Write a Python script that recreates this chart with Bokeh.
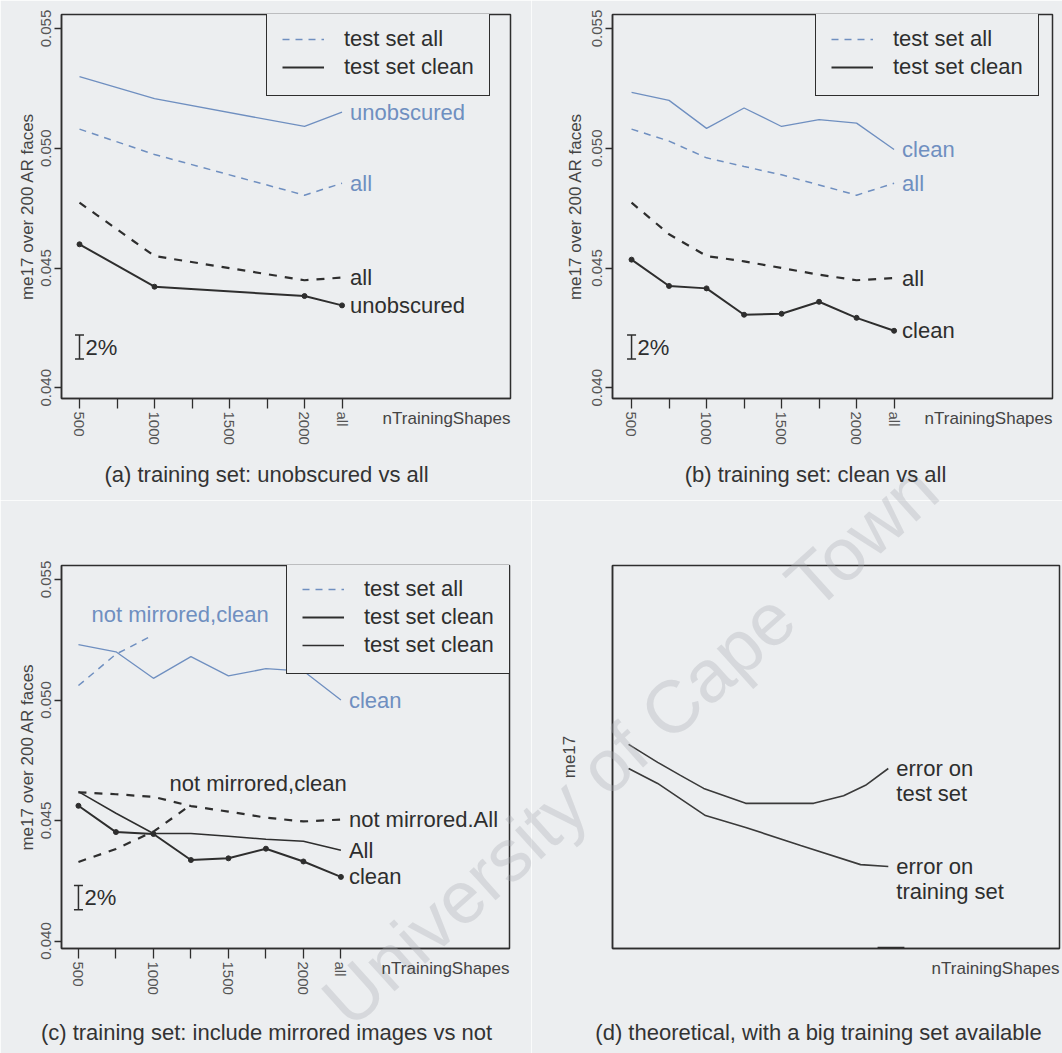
import math
from bokeh.plotting import figure
from bokeh.layouts import column, row
from bokeh.models import (Range1d, FixedTicker, PrintfTickFormatter, Legend, LegendItem,
                          Label, Whisker, TeeHead, ColumnDataSource)
from bokeh.embed import file_html
from bokeh.resources import INLINE

NAN = float("nan")

# ---------------- data ----------------
n_ticks = [500, 750, 1000, 1250, 1500, 1750, 2000, 2250]          # 2250 = "all"
n_tick_labels = ["500", "", "1000", "", "1500", "", "2000", "all"]
me17_ticks = [0.040, 0.045, 0.050, 0.055]

# (a) training set: unobscured vs all
a_n = [500, 1000, 2000, 2250]
a_unobscured_testall = [0.05299, 0.05207, 0.05091, 0.05151]
a_all_testall = [0.05080, 0.04974, 0.04804, 0.04854]
a_all_testclean = [0.04773, 0.04550, 0.04449, 0.04460]
a_unobscured_testclean = [0.04599, 0.04422, 0.04383, 0.04344]

# (b) training set: clean vs all
b_n = [500, 750, 1000, 1250, 1500, 1750, 2000, 2250]
b_clean_testall = [0.05233, 0.05200, 0.05083, 0.05168, 0.05091, 0.05120, 0.05105, 0.04995]
b_all_testall = [0.05080, 0.05030, 0.04960, 0.04924, 0.04889, 0.04847, 0.04804, 0.04854]
b_all_testclean = [0.04773, 0.04641, 0.04550, 0.04528, 0.04500, 0.04472, 0.04449, 0.04458]
b_clean_testclean = [0.04535, 0.04425, 0.04415, 0.04305, 0.04309, 0.04359, 0.04292, 0.04238]

# (c) training set: include mirrored images vs not
c_n = [500, 750, 1000, 1250, 1500, 1750, 2000, 2250]
c_notmirr_clean_testall = [0.0523, 0.0520, 0.0509, 0.0518, 0.0510, 0.0513, 0.0512, 0.0500]
c_mirr_testall = [0.0506, 0.0519, 0.0527, NAN, NAN, NAN, NAN, NAN]
c_notmirr_all_testclean = [0.04617, 0.04609, 0.04598, 0.04560, 0.04537, 0.04512, 0.04496, 0.04504]
c_mirr_all_testclean = [0.04328, 0.04382, 0.04454, 0.04565, NAN, NAN, NAN, NAN]
c_all_testclean = [0.0462, 0.0453, 0.04446, 0.04446, 0.04435, 0.04422, 0.04414, 0.04377]
c_clean_testclean = [0.04561, 0.04452, 0.04444, 0.04336, 0.04343, 0.04383, 0.04330, 0.04266]

# 2% scale bars
bar_n = 500
bar_ab = (0.0412, 0.0422)
bar_c = (0.0413, 0.0423)

# (d) theoretical (arbitrary units)
d_x_test = [0.36, 1.01, 1.52, 2.04, 2.98, 4.50, 5.17, 5.66, 6.17]
d_err_test = [5.33, 4.86, 4.52, 4.18, 3.79, 3.79, 3.99, 4.26, 4.70]
d_x_train = [0.36, 1.01, 2.08, 2.98, 4.21, 5.55, 6.17]
d_err_train = [4.70, 4.31, 3.47, 3.16, 2.69, 2.19, 2.14]
d_mark_x = [5.93, 6.53]

captions = ["(a) training set: unobscured vs all",
            "(b) training set: clean vs all",
            "(c) training set: include mirrored images vs not",
            "(d) theoretical, with a big training set available"]
x_title = "nTrainingShapes"
watermark_text = "University of Cape Town"

# ---------------- style ----------------
BG = "#eceef0"
INK = "#2e2e2e"
BLUE = "#6f8fc0"
TICKTXT = "#555555"
FONT = "Liberation Sans"
BIG = "22px"

# layout specs (global pixel layout of each figure)
SPEC = {
    "a": dict(ox=0, oy=0, W=531, H=500, bl=61, br=21, bt=14, bb=102, xr=(380, 3373), yr=(0.039552, 0.055585)),
    "b": dict(ox=531, oy=0, W=531, H=500, bl=81, br=10, bt=14, bb=102, xr=(373, 3306), yr=(0.039552, 0.055585)),
    "c": dict(ox=0, oy=500, W=531, H=553, bl=61, br=22, bt=65, bb=105, xr=(387, 3374), yr=(0.039689, 0.055581)),
    "d": dict(ox=531, oy=500, W=531, H=553, bl=81, br=3, bt=65, bb=105, xr=(0, 10), yr=(0, 10)),
}


def frame(s):
    return (s["ox"] + s["bl"], s["ox"] + s["W"] - s["br"], s["oy"] + s["bt"], s["oy"] + s["H"] - s["bb"])


def g2d(s, gx, gy):
    fl, fr, ft, fb = frame(s)
    x0, x1 = s["xr"]
    y0, y1 = s["yr"]
    return (x0 + (gx - fl) / (fr - fl) * (x1 - x0), y0 + (fb - gy) / (fb - ft) * (y1 - y0))


def dy_px(s, px):
    fl, fr, ft, fb = frame(s)
    y0, y1 = s["yr"]
    return px / (fb - ft) * (y1 - y0)


def make_fig(key, ticks=True, ylabel="me17 over 200 AR faces", ylabel_standoff=2):
    s = SPEC[key]
    p = figure(width=s["W"], height=s["H"], x_range=Range1d(*s["xr"]), y_range=Range1d(*s["yr"]),
               output_backend="svg", toolbar_location=None,
               min_border_left=s["bl"], min_border_right=s["br"],
               min_border_top=s["bt"], min_border_bottom=s["bb"])
    p.background_fill_color = BG
    p.border_fill_color = BG
    p.outline_line_color = INK
    p.outline_line_width = 1.5
    p.outline_line_alpha = 1
    p.grid.visible = False
    for ax in (p.xaxis[0], p.yaxis[0]):
        ax.axis_line_color = INK
        ax.axis_line_width = 1.5
        ax.major_tick_line_color = INK
        ax.major_tick_line_width = 1.3
        ax.major_tick_in = 0
        ax.minor_tick_in = 0
        ax.minor_tick_out = 0
        ax.major_label_text_font = FONT
        ax.major_label_text_font_size = "15px"
        ax.major_label_text_color = TICKTXT
        ax.axis_label_text_font = FONT
        ax.axis_label_text_font_style = "normal"
        ax.axis_label_text_font_size = "17px"
        ax.axis_label_text_color = "#444444"
    xa, ya = p.xaxis[0], p.yaxis[0]
    if ticks:
        xa.ticker = FixedTicker(ticks=n_ticks)
        xa.major_label_overrides = {t: l for t, l in zip(n_ticks, n_tick_labels)}
        xa.major_label_orientation = "vertical"
        xa.major_tick_out = 10
        xa.major_label_standoff = 3
        ya.ticker = FixedTicker(ticks=me17_ticks)
        ya.formatter = PrintfTickFormatter(format="%.3f")
        ya.major_label_orientation = "vertical"
        ya.major_tick_out = 7
        ya.major_label_standoff = 3
    else:
        xa.ticker = FixedTicker(ticks=[])
        ya.ticker = FixedTicker(ticks=[])
        xa.major_tick_out = 0
        ya.major_tick_out = 0
    ya.axis_label = ylabel
    ya.axis_label_standoff = ylabel_standoff
    return p


def end_label(p, x, y, text, color):
    p.add_layout(Label(x=x, y=y, text=text, x_offset=8, text_baseline="middle", text_align="left",
                       text_font=FONT, text_font_size=BIG, text_color=color))


def free_label(p, s, gx, gy, text, color, align="left", size=BIG):
    x, y = g2d(s, gx, gy)
    p.add_layout(Label(x=x, y=y, text=text, text_baseline="middle", text_align=align,
                       text_font=FONT, text_font_size=size, text_color=color))


def scale_bar(p, lo_hi):
    src = ColumnDataSource(dict(base=[bar_n], lower=[lo_hi[0]], upper=[lo_hi[1]]))
    p.add_layout(Whisker(source=src, base="base", lower="lower", upper="upper", dimension="height",
                         line_color=INK, line_width=1.5,
                         upper_head=TeeHead(size=9, line_color=INK, line_width=1.5),
                         lower_head=TeeHead(size=9, line_color=INK, line_width=1.5)))
    p.add_layout(Label(x=bar_n, y=(lo_hi[0] + lo_hi[1]) / 2, text="2%", x_offset=6, text_baseline="middle",
                       text_font=FONT, text_font_size=BIG, text_color=INK))


def legend(p, items, s, gx, gy, nrows):
    fl, fr, ft, fb = frame(s)
    h = 2 * 15 + nrows * 25 + (nrows - 1) * 2
    lg = Legend(items=items, location=(gx - fl, (fb - gy) - h),
                border_line_color=INK, border_line_width=1.6, border_line_alpha=1,
                background_fill_color=BG, background_fill_alpha=1,
                label_text_font=FONT, label_text_font_size=BIG, label_text_color=INK,
                glyph_width=42, glyph_height=20, label_height=20, label_standoff=20,
                spacing=2, padding=15, margin=0)
    p.add_layout(lg)


# ---------------- panel (a) ----------------
sa = SPEC["a"]
pa = make_fig("a")
ra1 = pa.line(a_n, a_unobscured_testall, line_color=BLUE, line_width=1.3)
ra2 = pa.line(a_n, a_all_testall, line_color=BLUE, line_width=1.5, line_dash="7 6")
ra3 = pa.line(a_n, a_all_testclean, line_color=INK, line_width=2.2, line_dash="8 8")
ra4 = pa.line(a_n, a_unobscured_testclean, line_color=INK, line_width=2)
pa.scatter(a_n, a_unobscured_testclean, size=5, color=INK)
end_label(pa, a_n[-1], a_unobscured_testall[-1], "unobscured", BLUE)
end_label(pa, a_n[-1], a_all_testall[-1], "all", BLUE)
end_label(pa, a_n[-1], a_all_testclean[-1], "all", INK)
end_label(pa, a_n[-1], a_unobscured_testclean[-1], "unobscured", INK)
scale_bar(pa, bar_ab)
legend(pa, [LegendItem(label="test set all", renderers=[ra2]),
            LegendItem(label="test set clean", renderers=[ra4])], sa, 266, 14, 2)

# ---------------- panel (b) ----------------
sb = SPEC["b"]
pb = make_fig("b", ylabel_standoff=5)
rb1 = pb.line(b_n, b_clean_testall, line_color=BLUE, line_width=1.3)
rb2 = pb.line(b_n, b_all_testall, line_color=BLUE, line_width=1.5, line_dash="7 6")
rb3 = pb.line(b_n, b_all_testclean, line_color=INK, line_width=2.2, line_dash="8 8")
rb4 = pb.line(b_n, b_clean_testclean, line_color=INK, line_width=2)
pb.scatter(b_n, b_clean_testclean, size=5, color=INK)
end_label(pb, b_n[-1], b_clean_testall[-1], "clean", BLUE)
end_label(pb, b_n[-1], b_all_testall[-1], "all", BLUE)
end_label(pb, b_n[-1], b_all_testclean[-1], "all", INK)
end_label(pb, b_n[-1], b_clean_testclean[-1], "clean", INK)
scale_bar(pb, bar_ab)
legend(pb, [LegendItem(label="test set all", renderers=[rb2]),
            LegendItem(label="test set clean", renderers=[rb4])], sb, 815, 14, 2)

# ---------------- panel (c) ----------------
sc = SPEC["c"]
pc = make_fig("c")
rc1 = pc.line(c_n, c_notmirr_clean_testall, line_color=BLUE, line_width=1.3)
rc2 = pc.line(c_n, c_mirr_testall, line_color=BLUE, line_width=1.5, line_dash="7 6")
rc3 = pc.line(c_n, c_notmirr_all_testclean, line_color=INK, line_width=2.2, line_dash="8 8")
rc3b = pc.line(c_n, c_mirr_all_testclean, line_color=INK, line_width=2.2, line_dash="8 8")
rc4 = pc.line(c_n, c_all_testclean, line_color=INK, line_width=1.5)
rc5 = pc.line(c_n, c_clean_testclean, line_color=INK, line_width=2)
pc.scatter(c_n, c_clean_testclean, size=5, color=INK)
end_label(pc, c_n[-1], c_notmirr_clean_testall[-1], "clean", BLUE)
end_label(pc, c_n[-1], c_notmirr_all_testclean[-1], "not mirrored.All", INK)
end_label(pc, c_n[-1], c_all_testclean[-1], "All", INK)
end_label(pc, c_n[-1], c_clean_testclean[-1], "clean", INK)
free_label(pc, sc, 91, 614, "not mirrored,clean", BLUE)
free_label(pc, sc, 169, 783, "not mirrored,clean", INK)
scale_bar(pc, bar_c)
legend(pc, [LegendItem(label="test set all", renderers=[rc2]),
            LegendItem(label="test set clean", renderers=[rc5]),
            LegendItem(label="test set clean", renderers=[rc4])], sc, 286, 565, 3)

# ---------------- panel (d) ----------------
sd = SPEC["d"]
pdd = make_fig("d", ticks=False, ylabel="me17", ylabel_standoff=34)
pdd.line(d_x_test, d_err_test, line_color="#3a3a3a", line_width=1.6)
pdd.line(d_x_train, d_err_train, line_color="#3a3a3a", line_width=1.6)
pdd.line(d_mark_x, [0, 0], line_color=INK, line_width=3.5)
end_label(pdd, d_x_test[-1], d_err_test[-1], "error on", INK)
end_label(pdd, d_x_test[-1], d_err_test[-1] - dy_px(sd, 25), "test set", INK)
end_label(pdd, d_x_train[-1], d_err_train[-1], "error on", INK)
end_label(pdd, d_x_train[-1], d_err_train[-1] - dy_px(sd, 25), "training set", INK)

layout = column(row(pa, pb, spacing=0), row(pc, pdd, spacing=0), spacing=0)

# ---------------- page overlay: captions, x titles, watermark ----------------
ov = figure(width=1062, height=1053, x_range=Range1d(0, 1062), y_range=Range1d(1053, 0),
            x_axis_type=None, y_axis_type=None, output_backend="svg", toolbar_location=None,
            min_border=0, styles={"position": "absolute", "left": "0px", "top": "0px"})
ov.background_fill_alpha = 0
ov.border_fill_alpha = 0
ov.outline_line_color = None

ov.add_layout(Label(x=630, y=744, text=watermark_text, angle=math.radians(42),
                    text_align="center", text_baseline="middle", text_font=FONT,
                    text_font_size="74px", text_color="#a7aab0", text_alpha=0.32))

for cap, (cx, cy) in zip(captions, [(266, 474), (815, 474), (266, 1032), (818, 1032)]):
    ov.add_layout(Label(x=cx, y=cy, text=cap, text_align="center", text_baseline="middle",
                        text_font=FONT, text_font_size=BIG, text_color="#333333"))

for key in ["a", "b", "c", "d"]:
    fl, fr, ft, fb = frame(SPEC[key])
    ov.add_layout(Label(x=fr, y=fb + 20, text=x_title, text_align="right", text_baseline="middle",
                        text_font=FONT, text_font_size="17px", text_color="#444444"))

open("out.html", "w").write(file_html([layout, ov], INLINE))
